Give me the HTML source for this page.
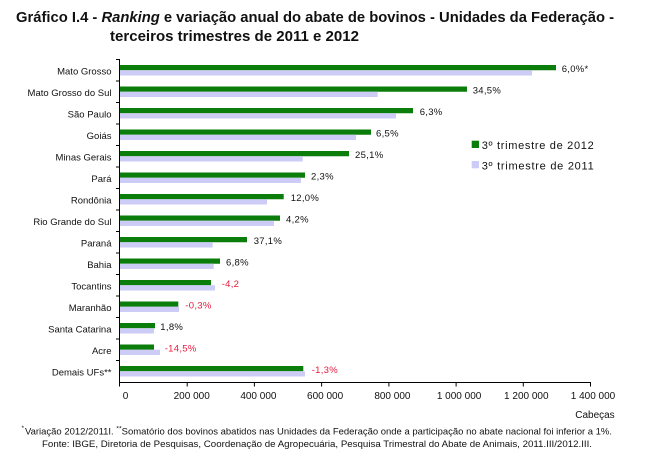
<!DOCTYPE html>
<html>
<head>
<meta charset="utf-8">
<style>
  html,body{margin:0;padding:0;background:#fff;}
  svg{display:block;}
  text{font-family:"Liberation Sans",Arial,sans-serif;}
</style>
</head>
<body>
<svg width="650" height="468" viewBox="0 0 650 468" xmlns="http://www.w3.org/2000/svg">
  <rect width="650" height="468" fill="#fff"/>

  <!-- Title -->
  <text x="16" y="22" font-size="14.5" font-weight="bold" fill="#111" textLength="598" lengthAdjust="spacingAndGlyphs">Gráfico I.4 - <tspan font-style="italic">Ranking</tspan> e variação anual do abate de bovinos - Unidades da Federação -</text>
  <text x="110" y="41" font-size="14.5" font-weight="bold" fill="#111" textLength="249" lengthAdjust="spacingAndGlyphs">terceiros trimestres de 2011 e 2012</text>

  <!-- Bars -->
  <g>
    <!-- green (2012) -->
    <rect x="120" y="65" width="436" height="5.25" fill="#0b7d0b"/>
    <rect x="120" y="86.5" width="347" height="5.25" fill="#0b7d0b"/>
    <rect x="120" y="108" width="293" height="5.25" fill="#0b7d0b"/>
    <rect x="120" y="129.5" width="251" height="5.25" fill="#0b7d0b"/>
    <rect x="120" y="151" width="229" height="5.25" fill="#0b7d0b"/>
    <rect x="120" y="172.5" width="185" height="5.25" fill="#0b7d0b"/>
    <rect x="120" y="194" width="163.7" height="5.25" fill="#0b7d0b"/>
    <rect x="120" y="215.5" width="160" height="5.25" fill="#0b7d0b"/>
    <rect x="120" y="237" width="127" height="5.25" fill="#0b7d0b"/>
    <rect x="120" y="258.5" width="100" height="5.25" fill="#0b7d0b"/>
    <rect x="120" y="280" width="91" height="5.25" fill="#0b7d0b"/>
    <rect x="120" y="301.5" width="58.3" height="5.25" fill="#0b7d0b"/>
    <rect x="120" y="323" width="35" height="5.25" fill="#0b7d0b"/>
    <rect x="120" y="344.5" width="34" height="5.25" fill="#0b7d0b"/>
    <rect x="120" y="366" width="183.3" height="5.25" fill="#0b7d0b"/>
    <!-- lavender (2011) -->
    <rect x="120" y="70.25" width="412" height="5.25" fill="#ccccf6"/>
    <rect x="120" y="91.75" width="257.7" height="5.25" fill="#ccccf6"/>
    <rect x="120" y="113.25" width="276" height="5.25" fill="#ccccf6"/>
    <rect x="120" y="134.75" width="236" height="5.25" fill="#ccccf6"/>
    <rect x="120" y="156.25" width="182.7" height="5.25" fill="#ccccf6"/>
    <rect x="120" y="177.75" width="181" height="5.25" fill="#ccccf6"/>
    <rect x="120" y="199.25" width="147" height="5.25" fill="#ccccf6"/>
    <rect x="120" y="220.75" width="154" height="5.25" fill="#ccccf6"/>
    <rect x="120" y="242.25" width="92.7" height="5.25" fill="#ccccf6"/>
    <rect x="120" y="263.75" width="93.7" height="5.25" fill="#ccccf6"/>
    <rect x="120" y="285.25" width="95" height="5.25" fill="#ccccf6"/>
    <rect x="120" y="306.75" width="59" height="5.25" fill="#ccccf6"/>
    <rect x="120" y="328.25" width="34" height="5.25" fill="#ccccf6"/>
    <rect x="120" y="349.75" width="40" height="5.25" fill="#ccccf6"/>
    <rect x="120" y="371.25" width="185" height="5.25" fill="#ccccf6"/>
  </g>

  <!-- Axes -->
  <g stroke="#000" stroke-width="1" fill="none">
    <line x1="119.5" y1="59.5" x2="119.5" y2="382.5"/>
    <line x1="119.5" y1="382.5" x2="591" y2="382.5"/>
    <!-- y ticks -->
    <line x1="116" y1="59.5" x2="120" y2="59.5"/>
    <line x1="116" y1="81" x2="120" y2="81"/>
    <line x1="116" y1="102.5" x2="120" y2="102.5"/>
    <line x1="116" y1="124" x2="120" y2="124"/>
    <line x1="116" y1="145.5" x2="120" y2="145.5"/>
    <line x1="116" y1="167" x2="120" y2="167"/>
    <line x1="116" y1="188.5" x2="120" y2="188.5"/>
    <line x1="116" y1="210" x2="120" y2="210"/>
    <line x1="116" y1="231.5" x2="120" y2="231.5"/>
    <line x1="116" y1="253" x2="120" y2="253"/>
    <line x1="116" y1="274.5" x2="120" y2="274.5"/>
    <line x1="116" y1="296" x2="120" y2="296"/>
    <line x1="116" y1="317.5" x2="120" y2="317.5"/>
    <line x1="116" y1="339" x2="120" y2="339"/>
    <line x1="116" y1="360.5" x2="120" y2="360.5"/>
    <!-- x ticks -->
    <line x1="119.5" y1="382.5" x2="119.5" y2="386.5"/>
    <line x1="187.2" y1="382.5" x2="187.2" y2="386.5"/>
    <line x1="254.4" y1="382.5" x2="254.4" y2="386.5"/>
    <line x1="321.6" y1="382.5" x2="321.6" y2="386.5"/>
    <line x1="388.9" y1="382.5" x2="388.9" y2="386.5"/>
    <line x1="456.1" y1="382.5" x2="456.1" y2="386.5"/>
    <line x1="523.3" y1="382.5" x2="523.3" y2="386.5"/>
    <line x1="590.5" y1="382.5" x2="590.5" y2="386.5"/>
  </g>

  <!-- Category labels -->
  <g font-size="9.5" fill="#111" text-anchor="end">
    <text x="111.5" y="74.25">Mato Grosso</text>
    <text x="111.5" y="95.75">Mato Grosso do Sul</text>
    <text x="111.5" y="117.25">São Paulo</text>
    <text x="111.5" y="138.75">Goiás</text>
    <text x="111.5" y="160.25">Minas Gerais</text>
    <text x="111.5" y="181.75">Pará</text>
    <text x="111.5" y="203.25">Rondônia</text>
    <text x="111.5" y="224.75">Rio Grande do Sul</text>
    <text x="111.5" y="246.25">Paraná</text>
    <text x="111.5" y="267.75">Bahia</text>
    <text x="111.5" y="289.25">Tocantins</text>
    <text x="111.5" y="310.75">Maranhão</text>
    <text x="111.5" y="332.25">Santa Catarina</text>
    <text x="111.5" y="353.75">Acre</text>
    <text x="111.5" y="375.25">Demais UFs**</text>
  </g>

  <!-- Value labels -->
  <g font-size="9.5" fill="#111" letter-spacing="0.3">
    <text x="561.7" y="72">6,0%*</text>
    <text x="472.7" y="93.5">34,5%</text>
    <text x="419.7" y="115">6,3%</text>
    <text x="376" y="136.5">6,5%</text>
    <text x="355" y="158">25,1%</text>
    <text x="311" y="179.5">2,3%</text>
    <text x="290.7" y="201">12,0%</text>
    <text x="286" y="222.5">4,2%</text>
    <text x="253.7" y="244">37,1%</text>
    <text x="226" y="265.5">6,8%</text>
    <text x="221.7" y="287" fill="#e8193c">-4,2</text>
    <text x="185.3" y="308.5" fill="#e8193c">-0,3%</text>
    <text x="160.3" y="330">1,8%</text>
    <text x="164.7" y="351.5" fill="#e8193c">-14,5%</text>
    <text x="311.7" y="373" fill="#e8193c">-1,3%</text>
  </g>

  <!-- X tick labels -->
  <g font-size="10" fill="#111" text-anchor="middle">
    <text x="125.5" y="399">0</text>
    <text x="191.7" y="399">200 000</text>
    <text x="258.4" y="399">400 000</text>
    <text x="325.1" y="399">600 000</text>
    <text x="392.4" y="399">800 000</text>
    <text x="459.1" y="399">1 000 000</text>
    <text x="526.3" y="399">1 200 000</text>
    <text x="593" y="399">1 400 000</text>
  </g>
  <text x="614.7" y="418" font-size="10" fill="#111" text-anchor="end">Cabeças</text>

  <!-- Legend -->
  <rect x="471.7" y="140.7" width="7.3" height="7.3" fill="#0b7d0b"/>
  <text x="481.7" y="149" font-size="11" fill="#111" textLength="112" lengthAdjust="spacing">3º trimestre de 2012</text>
  <rect x="471.7" y="161" width="7.3" height="7.3" fill="#ccccf6"/>
  <text x="481.7" y="169.3" font-size="11" fill="#111" textLength="112" lengthAdjust="spacing">3º trimestre de 2011</text>

  <!-- Footnotes -->
  <text x="21.5" y="430" font-size="6.5" fill="#111">*</text>
  <text x="25" y="434.3" font-size="9" fill="#111" textLength="587" lengthAdjust="spacingAndGlyphs">Variação 2012/2011I. <tspan font-size="6.5" dy="-4">**</tspan><tspan dy="4">Somatório dos bovinos abatidos nas Unidades da Federação onde a participação no abate nacional foi inferior a 1%.</tspan></text>
  <text x="42" y="446.8" font-size="9" fill="#111" textLength="550" lengthAdjust="spacingAndGlyphs">Fonte: IBGE, Diretoria de Pesquisas, Coordenação de Agropecuária, Pesquisa Trimestral do Abate de Animais, 2011.III/2012.III.</text>
</svg>
</body>
</html>
